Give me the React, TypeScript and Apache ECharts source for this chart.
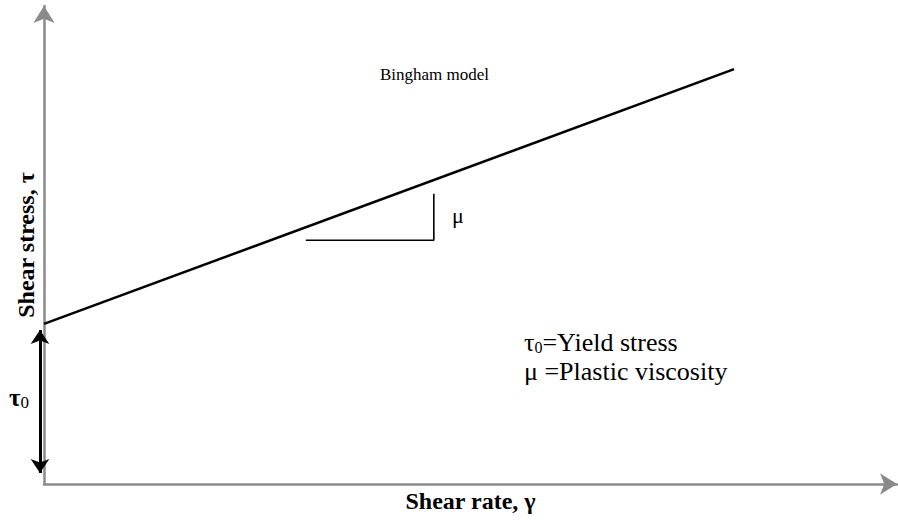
import React, { useEffect, useRef } from "react";
import * as echarts from "echarts";

// Bingham model line: yield stress (intercept) and an end point
const linePoints: [number, number][] = [
  [0, 33.5],
  [80.9, 86.8],
];
// slope indicator triangle
const slopePoints: [number, number][] = [
  [30.7, 51.0],
  [45.7, 51.0],
  [45.7, 60.7],
];
// yield stress double arrow
const tauArrow: [number, number][] = [
  [-0.47, 32.2],
  [-0.47, 2.3],
];
const xName = "Shear rate, γ";
const yName = "Shear stress, τ";
const SERIF = "Liberation Serif";

export default function App() {
  const ref = useRef<HTMLDivElement>(null);
  useEffect(() => {
    if (!ref.current) return;
    const chart = echarts.init(ref.current, undefined, { renderer: "svg" });
    const axisColor = "#8a8a8a";
    const txt = (size: number, extra: any = {}) => ({
      fontFamily: SERIF,
      fontSize: size,
      fill: "#000",
      ...extra,
    });
    chart.setOption({
      animation: false,
      backgroundColor: "#ffffff",
      grid: { left: 44, right: 1, top: 6, bottom: 36, containLabel: false },
      xAxis: {
        type: "value",
        min: 0,
        max: 100,
        name: xName,
        nameLocation: "middle",
        nameGap: 5,
        nameTextStyle: {
          fontFamily: SERIF,
          fontWeight: "bold",
          fontSize: 24,
          color: "#000",
          verticalAlign: "top",
        },
        axisLine: {
          show: true,
          symbol: ["none", "arrow"],
          symbolSize: [16, 17],
          lineStyle: { color: axisColor, width: 2.5 },
        },
        axisTick: { show: false },
        axisLabel: { show: false },
        splitLine: { show: false },
      },
      yAxis: {
        type: "value",
        min: 0,
        max: 100,
        name: yName,
        nameLocation: "middle",
        nameGap: 6,
        nameTextStyle: {
          fontFamily: SERIF,
          fontWeight: "bold",
          fontSize: 24,
          color: "#000",
        },
        axisLine: {
          show: true,
          symbol: ["none", "arrow"],
          symbolSize: [16, 17],
          lineStyle: { color: axisColor, width: 2.5 },
        },
        axisTick: { show: false },
        axisLabel: { show: false },
        splitLine: { show: false },
      },
      series: [
        {
          type: "line",
          data: linePoints,
          symbol: "none",
          silent: true,
          lineStyle: { color: "#000", width: 2.5 },
        },
        {
          type: "line",
          data: slopePoints,
          symbol: "none",
          silent: true,
          lineStyle: { color: "#000", width: 1.6 },
        },
        {
          type: "lines",
          coordinateSystem: "cartesian2d",
          silent: true,
          clip: false,
          symbol: ["arrow", "arrow"],
          symbolSize: 14,
          lineStyle: { color: "#000", width: 3, opacity: 1, curveness: 0 },
          data: [{ coords: tauArrow }],
        },
      ],
      graphic: [
        {
          type: "text",
          left: 380,
          top: 66,
          style: { text: "Bingham model", ...txt(17) },
        },
        {
          type: "text",
          left: 452,
          top: 204,
          style: { text: "μ", ...txt(22) },
        },
        {
          type: "text",
          left: 9,
          top: 385,
          style: {
            text: "{t|τ}{s|0}",
            rich: {
              t: txt(25, { fontWeight: "bold" }),
              s: txt(17, { padding: [10, 0, 0, 0] }),
            },
          },
        },
        {
          type: "text",
          left: 524,
          top: 329,
          style: {
            text: "{t|τ}{s|0}{n|=Yield stress}",
            rich: {
              t: txt(26),
              s: txt(16, { padding: [11, 0, 0, 0] }),
              n: txt(26),
            },
          },
        },
        {
          type: "text",
          left: 524,
          top: 358,
          style: { text: "μ =Plastic viscosity", ...txt(26) },
        },
      ],
    });
    return () => chart.dispose();
  }, []);
  return <div ref={ref} style={{ width: 898, height: 520, position: "absolute", left: 0, top: 0 }} />;
}
